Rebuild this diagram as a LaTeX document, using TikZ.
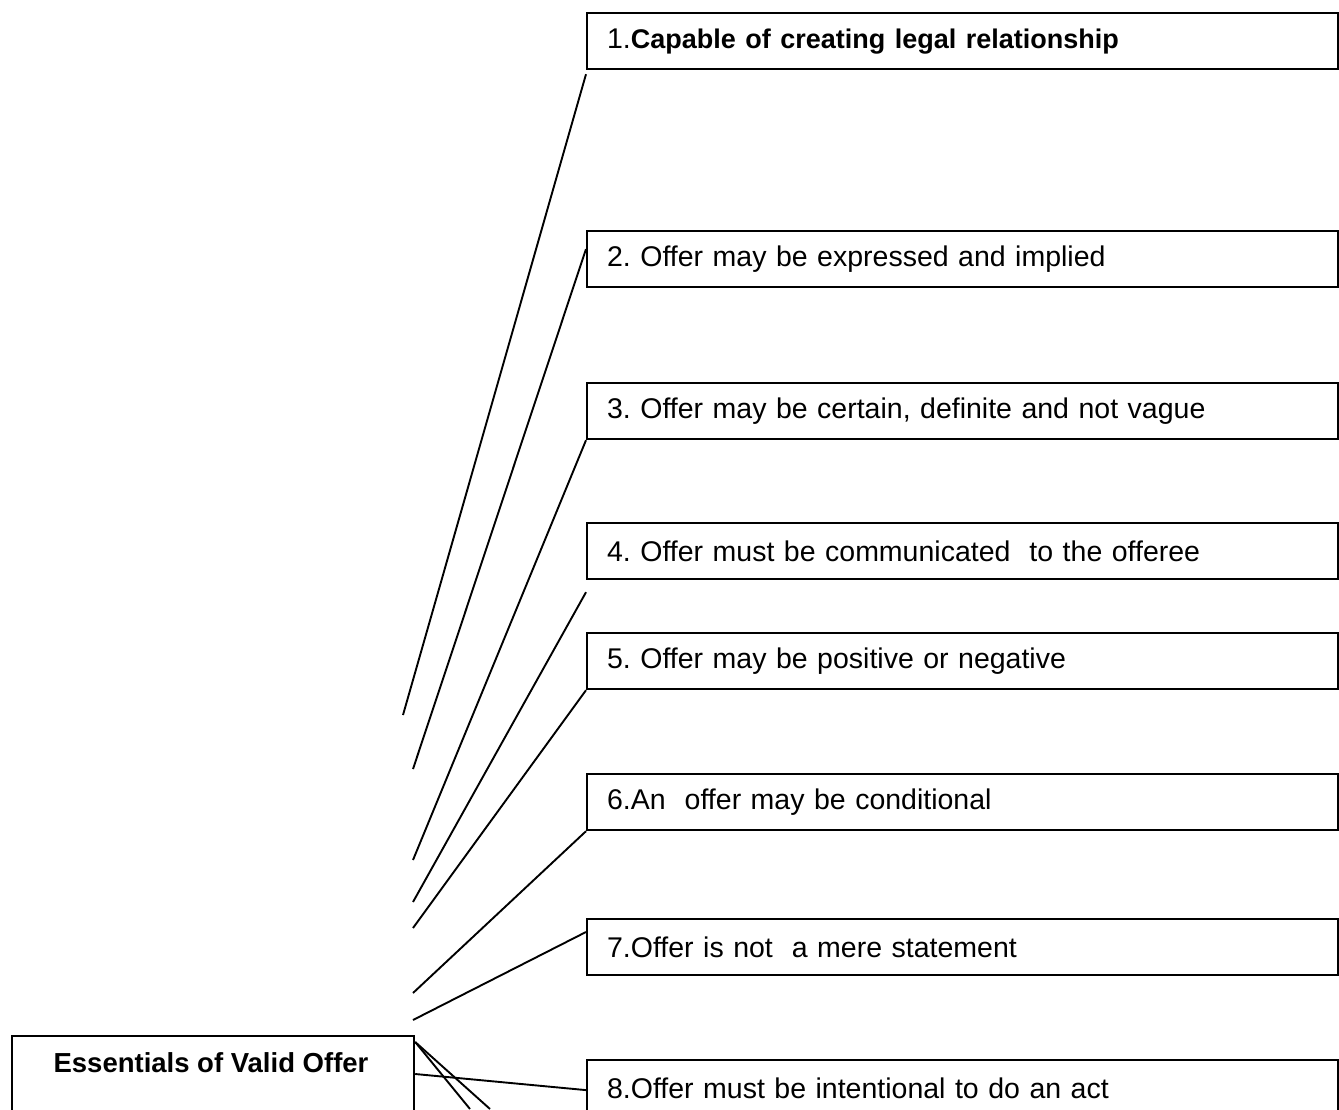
\documentclass[tikz,border=0pt]{standalone}
\usepackage{fontspec}
\setmainfont{Liberation Sans}
\begin{document}
\frenchspacing
\begin{tikzpicture}[x=1pt,y=-1pt,
  itembox/.style={draw=black,line width=2.2pt,fill=white,anchor=north west,
    minimum height=56pt,text width=711pt,inner xsep=20pt,align=left,
    font=\fontsize{28.5}{32}\selectfont},
  rootbox/.style={draw=black,line width=2.2pt,fill=white,anchor=north west,
    minimum width=402pt,minimum height=80pt},
  rootfont/.style={font=\fontsize{27.5}{32}\selectfont\bfseries},
  link/.style={draw=black,line width=1.9pt}]
\useasboundingbox (0,0) rectangle (1339,1109);
\fill[white] (0,0) rectangle (1339,1109);
% free ends
\coordinate (e1) at (403,715);
\coordinate (e2) at (413,769);
\coordinate (e3) at (413,860);
\coordinate (e4) at (413,902);
\coordinate (e5) at (413,928);
\coordinate (e6) at (413,993);
\coordinate (e7) at (413,1020);
\coordinate (c1) at (470,1109);
\coordinate (c2) at (490,1109);
\node[itembox] (b1) at (586,12) {1.{\fontsize{27}{32}\selectfont\bfseries Capable of creating legal relationship}};
\node[itembox] (b2) at (586,230) {2. Offer may be expressed and implied};
\node[itembox] (b3) at (586,382) {3. Offer may be certain, definite and not vague};
\node[itembox] (b4) at (586,522) {4. Offer must be communicated~ to the offeree};
\node[itembox] (b5) at (586,632) {5. Offer may be positive or negative};
\node[itembox] (b6) at (586,773) {6.An~ offer may be conditional};
\node[itembox] (b7) at (586,918) {7.Offer is not~ a mere statement};
\node[itembox] (b8) at (586,1059) {8.Offer must be intentional to do an act};
\node[rootbox] (root) at (11,1035) {};
\node[rootfont] (rootlabel) at (211,1063) {Essentials of Valid Offer};
\draw[link] (e1) -- ([yshift=-4pt]b1.south west);
\draw[link] (e2) -- ([yshift=10pt]b2.west);
\draw[link] (e3) -- (b3.south west);
\draw[link] (e4) -- ([yshift=-12pt]b4.south west);
\draw[link] (e5) -- (b5.south west);
\draw[link] (e6) -- (b6.south west);
\draw[link] (e7) -- ([yshift=-14pt]b7.north west);
\draw[link] ([yshift=-39pt]root.north east) -- ([yshift=-2pt]b8.west);
\draw[link] ([yshift=-7pt]root.north east) -- (c1);
\draw[link] ([yshift=-7pt]root.north east) -- (c2);
\end{tikzpicture}
\end{document}
